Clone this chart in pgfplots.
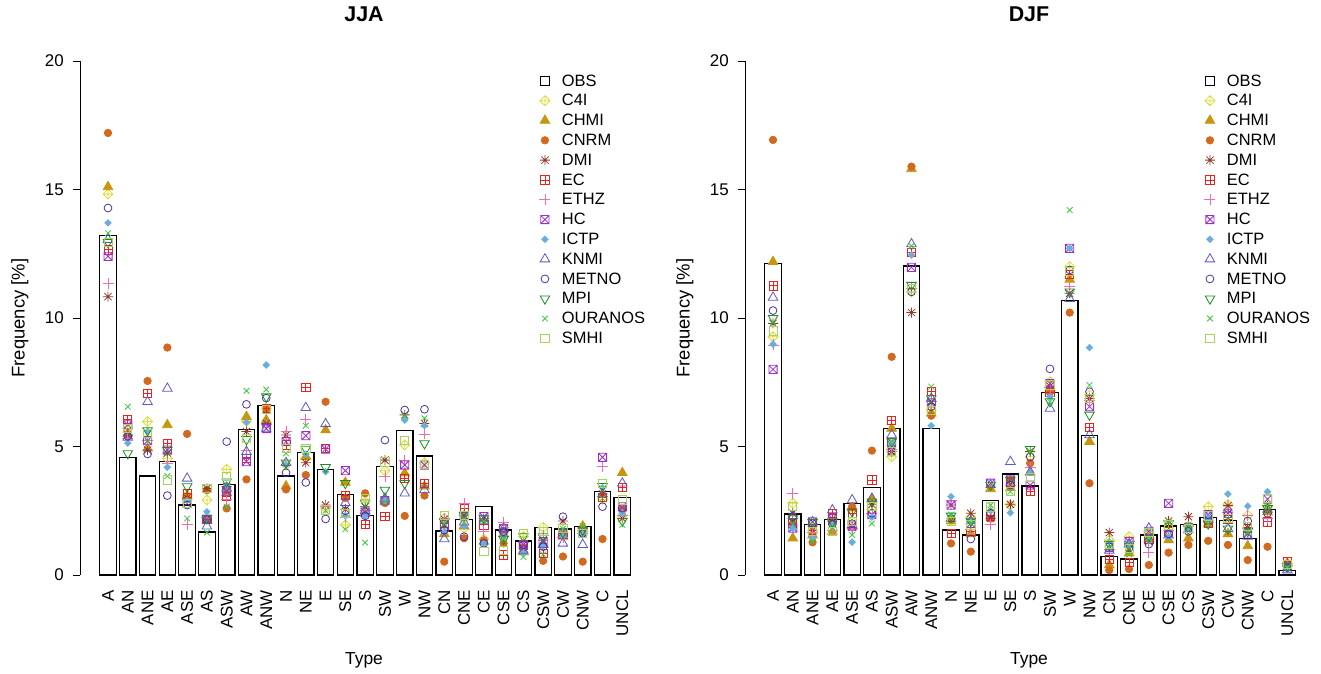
\documentclass[border=0pt]{standalone}
\usepackage{fontspec}
\setmainfont{Liberation Sans}
\usepackage{pgfplots}
\usepackage{pgfplotstable}
\pgfplotsset{compat=1.18}

\definecolor{cC4I}{HTML}{DCDC3A}
\definecolor{cCHMI}{HTML}{C8960C}
\definecolor{cCNRM}{HTML}{D2691E}
\definecolor{cDMI}{HTML}{8E3B2D}
\definecolor{cEC}{HTML}{E8221E}
\definecolor{cETHZ}{HTML}{F06BB0}
\definecolor{cHC}{HTML}{9B30C8}
\definecolor{cICTP}{HTML}{6AAEE0}
\definecolor{cKNMI}{HTML}{5A5AC8}
\definecolor{cMETNO}{HTML}{5030A0}
\definecolor{cMPI}{HTML}{1E8C1E}
\definecolor{cOUR}{HTML}{3CC83C}
\definecolor{cSMHI}{HTML}{A5D65A}

\pgfdeclareplotmark{rdplus}{%
 \pgfpathmoveto{\pgfqpoint{0pt}{\pgfplotmarksize}}%
 \pgfpathlineto{\pgfqpoint{\pgfplotmarksize}{0pt}}%
 \pgfpathlineto{\pgfqpoint{0pt}{-\pgfplotmarksize}}%
 \pgfpathlineto{\pgfqpoint{-\pgfplotmarksize}{0pt}}%
 \pgfpathclose
 \pgfpathmoveto{\pgfqpoint{0pt}{\pgfplotmarksize}}%
 \pgfpathlineto{\pgfqpoint{0pt}{-\pgfplotmarksize}}%
 \pgfpathmoveto{\pgfqpoint{-\pgfplotmarksize}{0pt}}%
 \pgfpathlineto{\pgfqpoint{\pgfplotmarksize}{0pt}}%
 \pgfusepathqstroke}
\pgfdeclareplotmark{rdfill}{%
 \pgfpathmoveto{\pgfqpoint{0pt}{\pgfplotmarksize}}%
 \pgfpathlineto{\pgfqpoint{\pgfplotmarksize}{0pt}}%
 \pgfpathlineto{\pgfqpoint{0pt}{-\pgfplotmarksize}}%
 \pgfpathlineto{\pgfqpoint{-\pgfplotmarksize}{0pt}}%
 \pgfpathclose
 \pgfusepathqfill}
\pgfdeclareplotmark{rtri}{%
 \pgfpathmoveto{\pgfqpoint{0pt}{\pgfplotmarksize}}%
 \pgfpathlineto{\pgfqpoint{0.866\pgfplotmarksize}{-0.5\pgfplotmarksize}}%
 \pgfpathlineto{\pgfqpoint{-0.866\pgfplotmarksize}{-0.5\pgfplotmarksize}}%
 \pgfpathclose
 \pgfusepathqstroke}
\pgfdeclareplotmark{rtrifill}{%
 \pgfpathmoveto{\pgfqpoint{0pt}{\pgfplotmarksize}}%
 \pgfpathlineto{\pgfqpoint{0.866\pgfplotmarksize}{-0.5\pgfplotmarksize}}%
 \pgfpathlineto{\pgfqpoint{-0.866\pgfplotmarksize}{-0.5\pgfplotmarksize}}%
 \pgfpathclose
 \pgfusepathqfillstroke}
\pgfdeclareplotmark{rtridown}{%
 \pgfpathmoveto{\pgfqpoint{0pt}{-\pgfplotmarksize}}%
 \pgfpathlineto{\pgfqpoint{0.866\pgfplotmarksize}{0.5\pgfplotmarksize}}%
 \pgfpathlineto{\pgfqpoint{-0.866\pgfplotmarksize}{0.5\pgfplotmarksize}}%
 \pgfpathclose
 \pgfusepathqstroke}
\pgfdeclareplotmark{rast}{%
 \pgfpathmoveto{\pgfqpoint{0pt}{\pgfplotmarksize}}%
 \pgfpathlineto{\pgfqpoint{0pt}{-\pgfplotmarksize}}%
 \pgfpathmoveto{\pgfqpoint{-\pgfplotmarksize}{0pt}}%
 \pgfpathlineto{\pgfqpoint{\pgfplotmarksize}{0pt}}%
 \pgfpathmoveto{\pgfqpoint{-0.72\pgfplotmarksize}{-0.72\pgfplotmarksize}}%
 \pgfpathlineto{\pgfqpoint{0.72\pgfplotmarksize}{0.72\pgfplotmarksize}}%
 \pgfpathmoveto{\pgfqpoint{-0.72\pgfplotmarksize}{0.72\pgfplotmarksize}}%
 \pgfpathlineto{\pgfqpoint{0.72\pgfplotmarksize}{-0.72\pgfplotmarksize}}%
 \pgfusepathqstroke}
\pgfdeclareplotmark{rsqplus}{%
 \pgfpathrectangle{\pgfqpoint{-\pgfplotmarksize}{-\pgfplotmarksize}}{\pgfqpoint{2\pgfplotmarksize}{2\pgfplotmarksize}}%
 \pgfpathmoveto{\pgfqpoint{0pt}{\pgfplotmarksize}}%
 \pgfpathlineto{\pgfqpoint{0pt}{-\pgfplotmarksize}}%
 \pgfpathmoveto{\pgfqpoint{-\pgfplotmarksize}{0pt}}%
 \pgfpathlineto{\pgfqpoint{\pgfplotmarksize}{0pt}}%
 \pgfusepathqstroke}
\pgfdeclareplotmark{rsqx}{%
 \pgfpathrectangle{\pgfqpoint{-\pgfplotmarksize}{-\pgfplotmarksize}}{\pgfqpoint{2\pgfplotmarksize}{2\pgfplotmarksize}}%
 \pgfpathmoveto{\pgfqpoint{-\pgfplotmarksize}{-\pgfplotmarksize}}%
 \pgfpathlineto{\pgfqpoint{\pgfplotmarksize}{\pgfplotmarksize}}%
 \pgfpathmoveto{\pgfqpoint{-\pgfplotmarksize}{\pgfplotmarksize}}%
 \pgfpathlineto{\pgfqpoint{\pgfplotmarksize}{-\pgfplotmarksize}}%
 \pgfusepathqstroke}

\pgfplotstableread{
x OBS C4I CHMI CNRM DMI EC ETHZ HC ICTP KNMI METNO MPI OURANOS SMHI
0 13.20 14.82 15.10 17.20 10.83 12.65 11.35 12.40 13.70 13.05 14.28 12.95 13.30 12.95
1 4.58 5.70 5.50 5.40 5.45 6.05 5.30 5.84 5.13 5.35 5.40 4.73 6.55 5.70
2 3.85 5.97 4.93 7.55 4.86 7.07 5.25 5.23 5.60 6.74 4.71 5.62 5.20 5.50
3 4.43 4.54 5.84 8.85 4.75 5.12 4.35 4.86 4.19 7.26 3.09 4.86 3.85 3.70
4 2.72 3.10 3.05 5.49 3.00 3.18 1.98 2.79 2.90 3.76 2.72 3.44 2.20 2.80
5 1.67 2.92 2.15 3.30 3.37 2.15 2.25 2.17 2.46 1.90 2.15 2.20 1.65 3.37
6 3.53 4.11 3.20 2.59 3.44 3.05 2.95 3.24 3.50 3.37 5.19 3.63 2.66 3.83
7 5.67 5.97 6.16 3.72 5.58 4.54 4.86 4.41 5.95 4.80 6.64 5.28 7.17 5.30
8 6.60 6.48 6.03 6.45 5.90 6.48 5.85 5.70 8.17 5.70 6.88 6.94 7.22 6.45
9 3.85 4.28 3.46 3.33 5.45 5.06 5.58 5.19 4.28 4.37 3.98 4.37 4.73 4.93
10 4.76 4.54 4.60 3.89 4.37 7.30 6.06 5.42 4.70 6.51 3.60 4.90 5.81 4.93
11 4.11 2.60 5.64 6.74 2.72 4.93 2.65 4.90 4.02 5.88 2.18 4.19 2.50 2.53
12 3.14 1.95 3.60 3.00 2.56 3.11 2.25 4.06 2.30 2.81 2.50 3.57 1.78 2.40
13 2.32 2.85 2.40 3.18 2.65 1.98 2.50 2.45 2.30 2.50 2.30 2.81 1.26 2.98
14 4.21 4.06 2.90 2.80 4.47 2.27 3.83 2.89 2.89 2.98 5.25 3.31 2.85 4.40
15 5.62 5.06 3.96 2.30 6.23 3.76 4.47 4.28 6.03 3.18 6.42 3.57 6.20 5.23
16 4.63 4.37 3.45 3.09 5.90 3.57 5.49 4.28 5.81 3.31 6.45 5.12 6.10 4.30
17 1.71 2.20 1.60 0.52 2.17 1.85 2.20 1.95 1.68 1.40 1.75 2.07 2.00 2.33
18 2.17 1.82 1.90 1.43 2.33 2.60 2.79 2.30 1.90 2.05 1.49 2.33 2.17 2.33
19 2.68 1.40 1.30 1.35 2.20 1.95 1.69 2.27 1.23 2.10 1.23 2.20 2.10 0.91
20 1.75 1.85 1.60 1.23 1.50 0.78 2.04 1.80 1.50 1.80 1.68 1.40 1.40 0.95
21 1.32 1.50 0.90 1.08 1.05 1.15 1.25 1.18 0.86 0.95 1.18 1.50 0.70 1.62
22 1.85 1.85 1.20 0.55 1.35 0.85 1.55 1.30 1.12 1.18 1.10 1.50 0.80 1.70
23 1.79 1.65 1.50 0.72 2.10 1.60 1.45 1.65 1.50 1.23 2.27 1.65 1.80 1.80
24 1.88 1.70 1.90 0.52 1.75 1.70 1.60 1.70 1.62 1.18 1.62 1.75 1.90 1.62
25 3.24 2.95 3.15 1.40 3.15 3.02 4.24 4.58 3.40 3.15 2.66 3.45 2.97 3.57
26 3.02 2.30 3.98 2.55 2.20 3.40 2.30 2.65 2.40 3.57 2.60 2.10 1.95 2.92
}\jja

\pgfplotstableread{
x OBS C4I CHMI CNRM DMI EC ETHZ HC ICTP KNMI METNO MPI OURANOS SMHI
0 12.13 9.27 12.19 16.93 9.79 11.25 8.95 8.00 8.98 10.80 10.29 9.99 9.85 9.50
1 2.37 2.79 1.43 2.00 2.40 2.00 3.18 1.82 1.80 2.30 2.27 2.20 1.98 2.66
2 1.97 1.90 1.55 1.27 1.75 1.75 1.65 2.07 1.45 2.07 2.00 2.05 1.30 1.70
3 2.17 2.20 1.69 2.00 2.10 2.40 1.75 2.20 1.95 2.53 1.98 2.07 1.82 1.69
4 2.79 2.10 2.60 2.66 1.85 2.40 1.80 1.90 1.28 2.92 2.00 2.47 1.56 2.10
5 3.41 2.55 2.97 4.84 2.75 3.70 2.40 2.35 2.25 2.97 2.40 2.85 2.00 2.66
6 5.71 4.60 5.70 8.49 4.80 6.03 4.90 5.15 5.10 5.45 4.80 5.19 5.20 4.80
7 12.02 11.02 15.80 15.89 10.21 12.54 11.15 11.97 12.45 12.88 11.02 11.28 12.80 11.15
8 5.71 6.42 6.29 6.20 6.75 7.13 6.75 6.70 5.81 6.87 6.55 6.87 7.33 6.42
9 1.75 2.10 2.10 1.23 2.72 1.62 2.90 2.72 3.05 2.20 2.20 2.30 2.35 2.10
10 1.56 2.25 1.60 0.91 2.40 1.70 1.78 2.00 2.05 2.10 1.40 2.10 2.00 1.95
11 2.89 2.45 3.35 2.20 2.20 2.30 1.95 3.57 2.50 3.50 2.40 3.50 2.72 2.65
12 3.93 2.72 3.40 3.70 2.75 3.60 3.50 3.70 2.42 4.41 3.50 3.70 3.24 3.24
13 3.46 4.60 4.00 4.35 4.80 3.24 4.20 3.50 4.00 4.00 4.60 4.89 4.80 3.80
14 7.10 7.52 7.20 7.10 7.35 7.10 7.30 7.45 6.94 6.48 8.02 6.75 6.75 7.40
15 10.67 12.00 11.50 10.21 10.96 11.70 11.22 12.71 12.71 10.75 11.87 11.02 14.20 11.80
16 5.42 7.00 5.19 3.57 6.87 5.75 6.80 6.55 8.85 5.45 7.13 6.23 7.39 6.87
17 0.71 1.36 0.39 0.19 1.65 0.61 1.00 1.07 1.30 0.95 1.10 1.20 1.07 1.20
18 0.62 1.49 0.85 0.23 1.20 0.48 1.30 1.30 1.20 1.20 1.05 1.14 0.80 1.05
19 1.56 1.60 1.40 0.39 1.30 1.40 0.88 1.70 1.35 1.82 1.20 1.49 1.40 1.65
20 1.91 1.85 1.36 0.87 2.10 1.70 1.75 2.79 1.50 1.55 1.60 2.00 2.05 1.95
21 1.98 1.90 1.43 1.17 2.27 1.85 1.90 1.85 1.75 1.75 1.70 1.85 1.95 1.80
22 2.24 2.66 2.00 1.33 2.10 2.00 2.05 2.35 2.20 2.30 2.35 2.00 2.00 2.30
23 2.11 2.75 1.60 1.17 2.70 2.15 2.45 2.40 3.15 1.80 2.35 1.80 2.17 2.20
24 1.43 2.33 1.13 0.58 1.85 1.80 2.33 1.60 2.68 1.50 2.10 1.70 1.65 1.90
25 2.56 2.65 2.45 1.10 2.70 2.07 2.20 2.95 3.24 2.55 2.40 2.60 2.70 2.99
26 0.19 0.45 0.45 0.40 0.38 0.54 0.38 0.35 0.25 0.19 0.28 0.35 0.30 0.40
}\djf

\pgfplotsset{
  pts/.style={only marks, line width=0.8bp, mark options={solid},
    legend image code/.code={\path[draw=none,fill=none] (-6bp,-6bp) rectangle (15bp,6bp);
      \draw[##1] plot coordinates {(0bp,0bp)};}},
  sC4I/.style={pts, color=cC4I, mark=rdplus, mark size=5bp},
  sCHMI/.style={pts, color=cCHMI, mark=rtrifill, mark size=5.5bp},
  sCNRM/.style={pts, color=cCNRM, mark=*, mark size=3.7bp},
  sDMI/.style={pts, color=cDMI, mark=rast, mark size=5bp},
  sEC/.style={pts, color=cEC, mark=rsqplus, mark size=4.1bp},
  sETHZ/.style={pts, color=cETHZ, mark=+, mark size=5.5bp},
  sHC/.style={pts, color=cHC, mark=rsqx, mark size=4.1bp},
  sICTP/.style={pts, color=cICTP, mark=rdfill, mark size=3.8bp},
  sKNMI/.style={pts, color=cKNMI, mark=rtri, mark size=5.5bp},
  sMETNO/.style={pts, color=cMETNO, mark=o, mark size=3.9bp},
  sMPI/.style={pts, color=cMPI, mark=rtridown, mark size=5.5bp},
  sOUR/.style={pts, color=cOUR, mark=x, mark size=4bp},
  sSMHI/.style={pts, color=cSMHI, mark=square, mark size=4.1bp},
  panel/.style={
    scale only axis, width=568bp, height=514bp,
    xmin=-1.416, xmax=27.3, ymin=0, ymax=20, clip=false,
    axis x line*=bottom, axis y line*=left,
    x axis line style={draw=none},
    y axis line style={black, line width=0.8bp},
    xtick={0,...,26},
    xticklabels={A,AN,ANE,AE,ASE,AS,ASW,AW,ANW,N,NE,E,SE,S,SW,W,NW,CN,CNE,CE,CSE,CS,CSW,CW,CNW,C,UNCL},
    x tick style={draw=none},
    xticklabel style={rotate=90, anchor=east, inner sep=0pt, font=\fontsize{17}{20}\selectfont},
    xticklabel shift=8bp,
    ytick={0,5,10,15,20},
    y tick style={black, line width=0.8bp},
    tick align=outside, major tick length=7bp,
    yticklabel style={inner sep=0pt, font=\fontsize{17}{20}\selectfont},
    yticklabel shift=9bp,
    /pgf/number format/assume math mode=true,
    title style={at={(axis description cs:0.5,1.0798)}, anchor=center, font=\bfseries\fontsize{21.5}{25}\selectfont},
    xlabel={Type},
    xlabel style={at={(axis description cs:0.5,-0.1654)}, anchor=center, font=\fontsize{17.5}{20}\selectfont},
    ylabel={Frequency [\%]},
    ylabel style={at={(axis description cs:-0.1057,0.5)}, anchor=center, font=\fontsize{18.5}{20}\selectfont},
    legend cell align=left,
    legend style={at={(axis description cs:0.808,0.9805)}, anchor=north west, draw=none, fill=none,
      inner sep=0pt, outer sep=0pt, column sep=0pt, row sep=0pt,
      font=\fontsize{16.5}{19}\selectfont,
      nodes={inner xsep=2bp, inner ysep=1.65bp, text height=13.5bp, text depth=3bp}},
  }
}

\newcommand{\drawpanel}[1]{%
  \addplot[ybar, bar width=0.833, fill=white, draw=black, line width=1.2bp, forget plot] table[x=x,y=OBS]{#1};
  \addlegendimage{pts, black, mark=square, mark size=4.1bp}
  \addlegendentry{OBS}
  \addplot[sC4I] table[x=x,y=C4I]{#1}; \addlegendentry{C4I}
  \addplot[sCHMI] table[x=x,y=CHMI]{#1}; \addlegendentry{CHMI}
  \addplot[sCNRM] table[x=x,y=CNRM]{#1}; \addlegendentry{CNRM}
  \addplot[sDMI] table[x=x,y=DMI]{#1}; \addlegendentry{DMI}
  \addplot[sEC] table[x=x,y=EC]{#1}; \addlegendentry{EC}
  \addplot[sETHZ] table[x=x,y=ETHZ]{#1}; \addlegendentry{ETHZ}
  \addplot[sHC] table[x=x,y=HC]{#1}; \addlegendentry{HC}
  \addplot[sICTP] table[x=x,y=ICTP]{#1}; \addlegendentry{ICTP}
  \addplot[sKNMI] table[x=x,y=KNMI]{#1}; \addlegendentry{KNMI}
  \addplot[sMETNO] table[x=x,y=METNO]{#1}; \addlegendentry{METNO}
  \addplot[sMPI] table[x=x,y=MPI]{#1}; \addlegendentry{MPI}
  \addplot[sOUR] table[x=x,y=OURANOS]{#1}; \addlegendentry{OURANOS}
  \addplot[sSMHI] table[x=x,y=SMHI]{#1}; \addlegendentry{SMHI}
}

\begin{document}
\begin{tikzpicture}
\path[use as bounding box] (0bp,0bp) rectangle (1321bp,674bp);
\begin{axis}[panel, at={(80bp,99bp)}, anchor=south west, title={JJA}]
\drawpanel{\jja}
\end{axis}
\begin{axis}[panel, at={(745bp,99bp)}, anchor=south west, title={DJF}]
\drawpanel{\djf}
\end{axis}
\end{tikzpicture}
\end{document}
